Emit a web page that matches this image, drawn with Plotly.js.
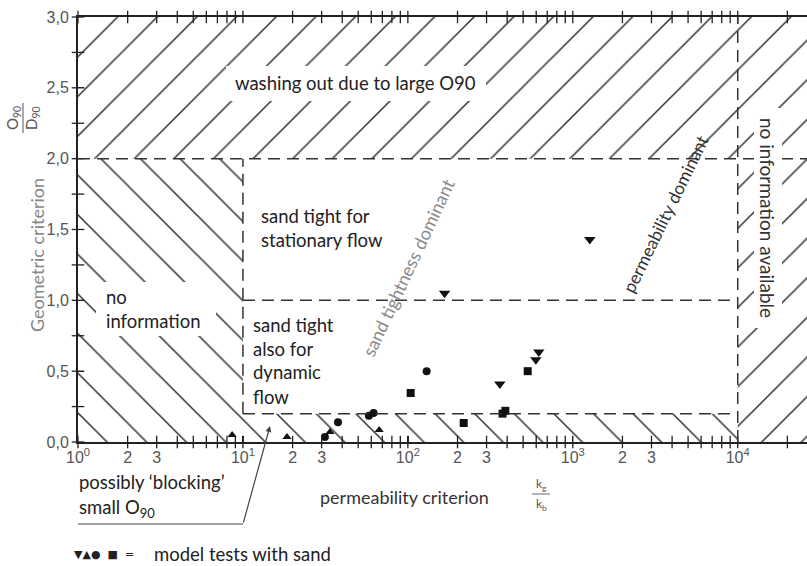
<!DOCTYPE html>
<html><head><meta charset="utf-8">
<script src="https://cdn.plot.ly/plotly-3.0.1.min.js"></script>
<style>body{margin:0;background:#fff}#plot{width:807px;height:566px}</style>
</head><body><div id="plot"></div>
<script>
// ---- data ----
const downX = [167, 361, 597, 622, 1268];
const downY = [1.05, 0.41, 0.58, 0.635, 1.43];
const upX = [8.6, 18.5, 33.7, 67];
const upY = [0.05, 0.035, 0.07, 0.085];
const circX = [31.4, 37.7, 58, 62, 130];
const circY = [0.035, 0.14, 0.185, 0.205, 0.50];
const sqX = [104, 218, 375, 390, 533];
const sqY = [0.346, 0.134, 0.20, 0.22, 0.50];

// zone boundaries
const xMin = 1, xMid = 10, xMax = 1e4, xEdge = Math.pow(10, 4.42);
const yBottom = 0, yLow = 0.2, yMid = 1.0, yHigh = 2.0, yTop = 3.0;

// tick labels
const yTickVals = [0, 0.5, 1.0, 1.5, 2.0, 2.5, 3.0];
const yTickText = ['0,0', '0,5', '1,0', '1,5', '2,0', '2,5', '3,0'];
const yMinorVals = [0.25, 0.75, 1.25, 1.75, 2.25, 2.75];
const decades = [0, 1, 2, 3, 4];
const labelledMultiples = ['2', '3'];

const xTickVals = [], xTickText = [], xMinorVals = [];
decades.forEach(n => {
  const d = Math.pow(10, n);
  xTickVals.push(d); xTickText.push('10<sup>' + n + '</sup>');
  if (n < 4) {
    labelledMultiples.forEach(m => { xTickVals.push(+m * d); xTickText.push(m); });
    for (let m = 4; m <= 9; m++) xMinorVals.push(m * d);
  } else {
    xMinorVals.push(2 * d);
  }
});

// ---- geometry helpers ----
const L = 78, T = 17, W = 729, H = 425;
const px = x => (x - L) / W;
const py = y => (442 - y) / H;
const FONT = 'Lato, "Open Sans", sans-serif';
const TS = 18.5;

const hatch = (xs, ys, shape) => ({
  x: xs, y: ys, type: 'scatter', mode: 'lines', fill: 'toself',
  line: {width: 0, color: 'rgba(0,0,0,0)'},
  fillcolor: 'rgba(0,0,0,0)',
  fillpattern: {shape: shape, size: 28, solidity: 0.055, fgcolor: '#333', bgcolor: 'rgba(0,0,0,0)'},
  hoverinfo: 'skip', showlegend: false
});

const slashZone = hatch(
  [xMin, xEdge, xEdge, xMax, xMax, xMin, xMin],
  [yTop, yTop, yBottom, yBottom, yHigh, yHigh, yTop], '/');
const backZone = hatch(
  [xMin, xMid, xMid, xMax, xMax, xMin, xMin],
  [yHigh, yHigh, yLow, yLow, yBottom, yBottom, yHigh], '\\');

const pts = (xs, ys, sym, sz) => ({
  x: xs, y: ys, type: 'scatter', mode: 'markers',
  marker: {symbol: sym, size: sz, color: '#111'}, showlegend: false, cliponaxis: false
});

// tick marks along the frame (major + minor), drawn from the tick arrays
const allXTicks = xTickVals.concat(xMinorVals);
const allYTicks = yTickVals.concat(yMinorVals);
const tickMarks = (xs, ys, sym) => ({
  x: xs, y: ys, type: 'scatter', mode: 'markers', cliponaxis: false,
  marker: {symbol: sym, size: 9, line: {color: '#222', width: 1.3}},
  hoverinfo: 'skip', showlegend: false
});

const traces = [slashZone, backZone,
  tickMarks(allXTicks, allXTicks.map(() => yBottom), 'line-ns'),
  tickMarks(allXTicks, allXTicks.map(() => yTop), 'line-ns'),
  tickMarks(allYTicks.map(() => xMin), allYTicks, 'line-ew'),
  pts(downX, downY, 'triangle-down', 10),
  pts(upX, upY, 'triangle-up', 8),
  pts(circX, circY, 'circle', 8),
  pts(sqX, sqY, 'square', 8)];

const dashLine = (x0, y0, x1, y1) => ({type: 'line', xref: 'x', yref: 'y', x0, y0, x1, y1,
  line: {color: '#333', width: 1.5, dash: '12px,7px'}, layer: 'above'});
const whiteBox = (x0, y0, x1, y1) => ({type: 'rect', xref: 'paper', yref: 'paper',
  x0: px(x0), x1: px(x1), y0: py(y1), y1: py(y0), fillcolor: '#fff', line: {width: 0}, layer: 'above'});
const pline = (x0, y0, x1, y1, c, w) => ({type: 'line', xref: 'paper', yref: 'paper',
  x0: px(x0), y0: py(y0), x1: px(x1), y1: py(y1), line: {color: c || '#444', width: w || 1.2}, layer: 'above'});

const shapes = [
  dashLine(xMin, yHigh, xEdge, yHigh),
  dashLine(xMid, yMid, xMax, yMid),
  dashLine(xMid, yLow, xMax, yLow),
  dashLine(xMid, yLow, xMid, yHigh),
  dashLine(xMax, yBottom, xMax, yTop),
  whiteBox(226, 66, 486, 101),
  whiteBox(96, 282, 216, 336),
  whiteBox(754, 108, 782, 328),
  pline(78, 524, 243, 524, '#444', 1.2),
  pline(532, 494, 550, 494, '#666', 1),
  pline(23, 103, 23, 133, '#555', 1)
];

const txt = (text, x, y, o) => Object.assign({
  text, x: px(x), y: py(y), xref: 'paper', yref: 'paper', showarrow: false,
  xanchor: 'left', yanchor: 'middle', font: {family: FONT, size: TS, color: '#222'}
}, o || {});

const annotations = [
  txt('washing out due to large O90', 355, 83, {xanchor: 'center'}),
  txt('sand tight for', 259, 216),
  txt('stationary flow', 259, 240),
  txt('no', 104, 297),
  txt('information', 104, 321),
  txt('sand tight', 251, 325),
  txt('also for', 251, 349),
  txt('dynamic', 251, 372),
  txt('flow', 251, 397),
  txt('sand tightness dominant', 408, 268, {xanchor: 'center', textangle: -65, font: {family: FONT, size: 18, color: '#8a8a8a'}}),
  txt('permeability dominant', 665, 214, {xanchor: 'center', textangle: -64, font: {family: FONT, size: 17.5, color: '#333'}}),
  txt('no information available', 767, 218, {xanchor: 'center', textangle: 90, font: {family: FONT, size: 19, color: '#333'}}),
  txt('permeability criterion', 318, 497, {font: {family: FONT, size: 18, color: '#333'}}),
  txt('k<sub>g</sub>', 541, 484, {xanchor: 'center', font: {family: FONT, size: 12, color: '#555'}}),
  txt('k<sub>b</sub>', 541, 504, {xanchor: 'center', font: {family: FONT, size: 12, color: '#555'}}),
  txt('possibly ‘blocking’', 77, 482),
  txt('small O<sub>90</sub>', 77, 508),
  txt('▼▲●  ■  =', 72, 554, {font: {family: 'DejaVu Sans', size: 11, color: '#222'}}),
  txt('model tests with sand', 152, 554),
  txt('Geometric criterion', 37, 255, {xanchor: 'center', textangle: -90, font: {family: FONT, size: 18, color: '#888'}}),
  txt('O<sub>90</sub>', 13, 118, {xanchor: 'center', textangle: -90, font: {family: FONT, size: 15, color: '#555'}}),
  txt('D<sub>90</sub>', 32, 118, {xanchor: 'center', textangle: -90, font: {family: FONT, size: 15, color: '#555'}}),
  {x: px(270), y: py(426), xref: 'paper', yref: 'paper', text: '', showarrow: true,
   ax: -27, ay: 98, arrowhead: 2, arrowsize: 1, arrowwidth: 1.2, arrowcolor: '#444'}
];

const tickFont = {family: 'Liberation Sans, Arial, sans-serif', size: 16, color: '#555'};

const layout = {
  width: 807, height: 566,
  margin: {l: L, r: 0, t: T, b: 124},
  paper_bgcolor: '#fff', plot_bgcolor: '#fff',
  showlegend: false,
  xaxis: {
    type: 'log', range: [0, 4.42], showgrid: false, zeroline: false,
    showline: true, linecolor: '#222', linewidth: 2, mirror: true,
    ticks: 'inside', ticklen: 6, tickwidth: 1.3, tickcolor: '#222',
    tickmode: 'array', tickvals: xTickVals, ticktext: xTickText,
    tickfont: tickFont
  },
  yaxis: {
    range: [0, 3], showgrid: false, zeroline: false,
    showline: true, linecolor: '#222', linewidth: 2,
    ticks: 'inside', ticklen: 6, tickwidth: 1.3, tickcolor: '#222',
    tickmode: 'array', tickvals: yTickVals, ticktext: yTickText,
    tickfont: tickFont,
    ticklabelstandoff: 4
  },
  shapes, annotations
};

Plotly.newPlot('plot', traces, layout, {displayModeBar: false, staticPlot: true});
</script></body></html>
